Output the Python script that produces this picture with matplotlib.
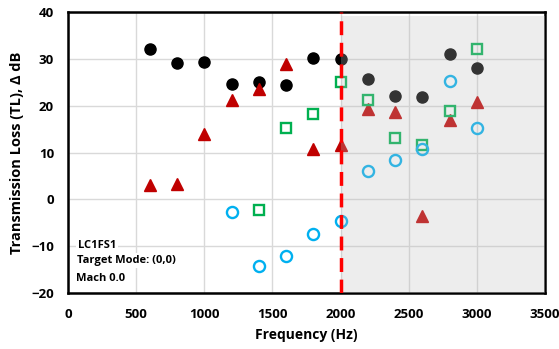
import matplotlib
matplotlib.use("Agg")
import matplotlib.pyplot as plt

freq = [600, 800, 1000, 1200, 1400, 1600, 1800, 2000, 2200, 2400, 2600, 2800, 3000]
tl_black = [32.1, 29.1, 29.3, 24.6, 25.0, 24.4, 30.2, 30.0, 25.7, 22.1, 21.8, 31.0, 28.0]
tl_red = [3.0, 3.3, 14.0, 21.2, 23.6, 29.0, 10.8, 11.5, 19.2, 18.7, -3.5, 17.0, 20.8]

freq_green = [1400, 1600, 1800, 2000, 2200, 2400, 2600, 2800, 3000]
tl_green = [-2.2, 15.3, 18.2, 25.0, 21.2, 13.1, 11.5, 18.9, 32.2]

freq_blue = [1200, 1400, 1600, 1800, 2000, 2200, 2400, 2600, 2800, 3000]
tl_blue = [-2.6, -14.2, -12.1, -7.4, -4.6, 6.0, 8.3, 10.8, 25.3, 15.2]

notes = ["LC1FS1", "Target Mode: (0,0)", "Mach 0.0"]

plt.rcParams['font.family'] = ['Open Sans', 'DejaVu Sans']
plt.rcParams['font.weight'] = 'bold'

fig = plt.figure(figsize=(5.59, 3.49), dpi=100)
ax = fig.add_axes([0.1216, 0.1605, 0.8534, 0.805])

ax.set_xlim(0, 3500)
ax.set_ylim(-20, 40)
ax.set_xticks(range(0, 3501, 500))
ax.set_yticks(range(-20, 41, 10))
ax.grid(True, color='#d9d9d9', linewidth=1, zorder=0)
ax.set_axisbelow(True)

ax.plot(freq, tl_black, 'o', color='black', markersize=8, zorder=3)
ax.plot(freq, tl_red, '^', color='#c00000', markersize=8, zorder=3)
ax.plot(freq_green, tl_green, 's', mfc='none', mec='#00b050', mew=1.7,
        markersize=7.5, zorder=3)
ax.plot(freq_blue, tl_blue, 'o', mfc='none', mec='#00b0f0', mew=1.7,
        markersize=8, zorder=3)

# shaded overlay on top of the markers
ax.axvspan(2000, 3500, ymin=0, ymax=0.985, color='#bfbfbf', alpha=0.27,
           lw=0, zorder=4)
ax.axvline(2000, color='#ff0000', lw=2.5, ls=(0, (4, 2.2)), zorder=5)

for s in ax.spines.values():
    s.set_linewidth(1.8)
    s.set_color('black')

ax.tick_params(length=0, labelsize=9.5)
ax.tick_params(axis='x', pad=11)
ax.tick_params(axis='y', pad=10)
for lab in ax.get_xticklabels() + ax.get_yticklabels():
    lab.set_fontweight('bold')

ax.set_xlabel('Frequency (Hz)', fontsize=10, fontweight='bold', labelpad=5)
ax.set_ylabel('Transmission Loss (TL), Δ dB', fontsize=10.5, fontweight='bold',
              labelpad=5)

ys = [0.17, 0.117, 0.053]
xs = [0.021, 0.019, 0.017]
for t, x, y in zip(notes, xs, ys):
    ax.text(x, y, t, transform=ax.transAxes, fontsize=8, fontweight='bold',
            va='center', ha='left', zorder=6,
            bbox=dict(facecolor='white', edgecolor='none', pad=1.5))

fig.savefig('out.png', dpi=100)
